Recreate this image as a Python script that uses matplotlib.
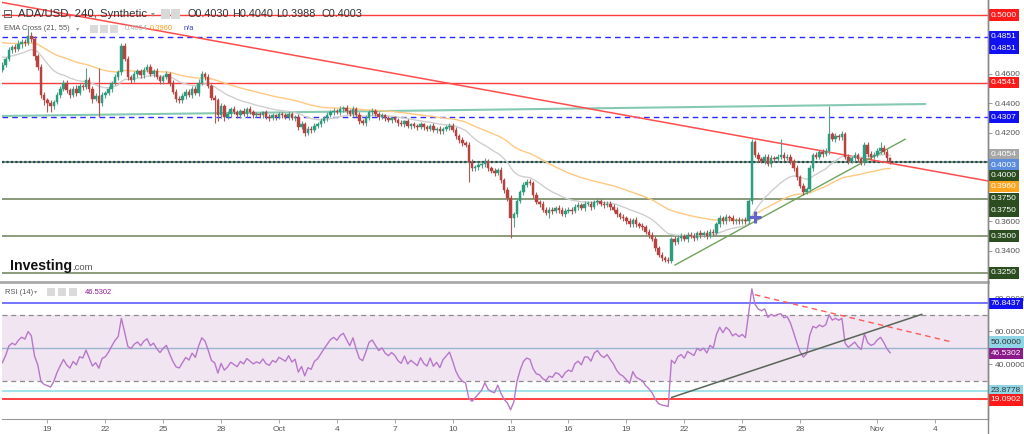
import numpy as np
import matplotlib
matplotlib.use("Agg")
import matplotlib.pyplot as plt
from matplotlib.patches import Rectangle
from matplotlib.transforms import blended_transform_factory

plt.rcParams['font.family'] = ['Liberation Sans', 'DejaVu Sans']

# ---------------- data (prices in 1e-4 units) ----------------
start_day = -14 - 1/3          # first candle: Sep 16 16:00, days relative to Oct 1
first_open = 4630
close_rows = [
    [4660, 4700],                                   # Sep 16
    [4760, 4780, 4770, 4800, 4820, 4810],           # Sep 17
    [4860, 4840, 4720, 4650, 4460, 4420],           # Sep 18
    [4400, 4380, 4410, 4460, 4500, 4540],           # Sep 19
    [4490, 4460, 4500, 4470, 4520, 4510],           # Sep 20
    [4560, 4500, 4430, 4450, 4400, 4460],           # Sep 21
    [4470, 4500, 4540, 4580, 4610, 4790],           # Sep 22
    [4700, 4580, 4560, 4600, 4620, 4590],           # Sep 23
    [4630, 4650, 4600, 4620, 4580, 4550],           # Sep 24
    [4580, 4600, 4540, 4480, 4430, 4420],           # Sep 25
    [4450, 4480, 4460, 4500, 4470, 4540],           # Sep 26
    [4600, 4580, 4520, 4440, 4420, 4320],           # Sep 27
    [4380, 4310, 4330, 4360, 4340, 4320],           # Sep 28
    [4350, 4330, 4360, 4340, 4320, 4330],           # Sep 29
    [4320, 4340, 4310, 4300, 4320, 4310],           # Sep 30
    [4330, 4320, 4310, 4330, 4300, 4310],           # Oct 1
    [4240, 4260, 4200, 4230, 4220, 4250],           # Oct 2
    [4260, 4280, 4300, 4320, 4340, 4350],           # Oct 3
    [4340, 4360, 4370, 4350, 4330, 4360],           # Oct 4
    [4320, 4280, 4270, 4300, 4340, 4350],           # Oct 5
    [4330, 4310, 4320, 4300, 4290, 4300],           # Oct 6
    [4290, 4270, 4260, 4280, 4250, 4260],           # Oct 7
    [4250, 4240, 4260, 4240, 4230, 4250],           # Oct 8
    [4220, 4230, 4210, 4230, 4240, 4250],           # Oct 9
    [4220, 4180, 4150, 4130, 4120, 4000],           # Oct 10
    [3960, 3970, 3980, 3990, 4010, 3960],           # Oct 11
    [3940, 3930, 3950, 3880, 3810, 3760],           # Oct 12
    [3620, 3650, 3740, 3800, 3850, 3870],           # Oct 13
    [3860, 3780, 3730, 3720, 3680, 3660],           # Oct 14
    [3680, 3670, 3690, 3680, 3650, 3670],           # Oct 15
    [3680, 3670, 3700, 3710, 3690, 3720],           # Oct 16
    [3720, 3700, 3730, 3740, 3720, 3710],           # Oct 17
    [3720, 3700, 3680, 3650, 3630, 3620],           # Oct 18
    [3600, 3580, 3610, 3580, 3570, 3560],           # Oct 19
    [3530, 3510, 3480, 3420, 3370, 3350],           # Oct 20
    [3340, 3330, 3480, 3460, 3490, 3500],           # Oct 21
    [3480, 3510, 3500, 3490, 3520, 3510],           # Oct 22
    [3520, 3500, 3530, 3520, 3580, 3620],           # Oct 23
    [3600, 3630, 3620, 3600, 3610, 3600],           # Oct 24
    [3610, 3600, 3740, 4140, 4050, 4020],           # Oct 25
    [4010, 4040, 3990, 4030, 4020, 4040],           # Oct 26
    [4050, 4030, 4040, 4010, 3960, 3900],           # Oct 27
    [3840, 3800, 3820, 3960, 4050, 4040],           # Oct 28
    [4070, 4060, 4080, 4190, 4160, 4180],           # Oct 29
    [4170, 4190, 4040, 4010, 4030, 4050],           # Oct 30
    [4020, 4000, 4120, 4060, 4040, 4050],           # Oct 31
    [4080, 4100, 4070, 4030, 4003],                 # Nov 1
]
upper_wick_rows = [
    [20, 15],
    [25, 15, 20, 30, 20, 15], [45, 25, 20, 15, 20, 15], [15, 20, 15, 20, 15, 20],
    [20, 15, 20, 25, 20, 15], [80, 20, 15, 20, 190, 20], [15, 20, 15, 20, 20, 20],
    [20, 20, 15, 20, 15, 15], [20, 15, 20, 15, 20, 15], [15, 20, 15, 20, 15, 20],
    [20, 15, 20, 15, 20, 25], [20, 15, 20, 15, 20, 15], [20, 15, 20, 15, 20, 15],
    [15, 20, 15, 20, 15, 15], [15, 10, 15, 20, 15, 10], [15, 10, 15, 20, 15, 10],
    [15, 20, 15, 20, 15, 20], [15, 20, 15, 20, 15, 20], [15, 20, 15, 20, 15, 20],
    [15, 20, 15, 20, 15, 20], [15, 10, 15, 10, 15, 10], [15, 10, 15, 10, 15, 10],
    [15, 10, 15, 10, 15, 10], [15, 10, 15, 10, 15, 20], [15, 20, 15, 20, 15, 20],
    [20, 15, 20, 15, 20, 15], [15, 20, 15, 20, 15, 20], [20, 15, 20, 15, 20, 15],
    [20, 15, 20, 15, 20, 15], [15, 20, 15, 20, 15, 20], [15, 20, 15, 20, 15, 20],
    [15, 20, 15, 20, 15, 20], [15, 20, 15, 20, 15, 20], [15, 20, 15, 20, 15, 20],
    [15, 20, 15, 20, 15, 20], [15, 20, 15, 20, 15, 20], [15, 20, 15, 20, 15, 20],
    [15, 20, 15, 20, 15, 20], [15, 20, 15, 20, 15, 20], [15, 20, 15, 20, 15, 20],
    [15, 20, 15, 20, 15, 20], [110, 20, 15, 20, 15, 20], [15, 20, 15, 20, 15, 20],
    [15, 20, 15, 193, 15, 20], [15, 20, 15, 20, 15, 20], [15, 20, 20, 20, 15, 20],
    [20, 40, 15, 20, 10],
]
lower_wick_rows = [
    [20, 15],
    [15, 20, 20, 15, 25, 20], [15, 20, 25, 20, 20, 30], [60, 40, 20, 15, 20, 15],
    [20, 25, 15, 20, 15, 20], [15, 20, 25, 15, 90, 20], [20, 15, 20, 15, 20, 15],
    [15, 20, 20, 15, 20, 20], [15, 20, 15, 20, 15, 20], [20, 15, 20, 15, 20, 15],
    [15, 20, 15, 20, 15, 20], [15, 20, 15, 20, 150, 40], [20, 30, 15, 20, 15, 20],
    [20, 15, 20, 15, 20, 15], [15, 20, 15, 20, 15, 20], [15, 20, 15, 20, 15, 20],
    [20, 15, 20, 15, 20, 15], [15, 20, 15, 20, 15, 20], [15, 20, 15, 20, 15, 20],
    [15, 20, 15, 20, 15, 20], [15, 20, 15, 20, 15, 20], [15, 20, 15, 20, 15, 20],
    [15, 20, 15, 20, 15, 20], [15, 20, 15, 20, 15, 20], [15, 20, 15, 20, 15, 130],
    [20, 15, 20, 15, 20, 15], [15, 20, 15, 20, 15, 20], [130, 60, 20, 15, 20, 15],
    [15, 20, 15, 20, 15, 20], [40, 20, 15, 20, 15, 20], [15, 20, 15, 20, 15, 20],
    [15, 20, 15, 20, 15, 20], [15, 20, 15, 20, 15, 20], [15, 20, 15, 20, 15, 20],
    [15, 20, 15, 20, 15, 20], [15, 15, 15, 20, 15, 20], [15, 20, 15, 20, 15, 20],
    [15, 20, 15, 20, 15, 20], [15, 20, 15, 20, 15, 20], [15, 20, 15, 20, 15, 20],
    [15, 20, 15, 20, 15, 20], [15, 20, 15, 20, 15, 20], [15, 20, 15, 20, 15, 20],
    [15, 20, 15, 20, 15, 20], [15, 20, 15, 20, 15, 20], [15, 20, 15, 20, 15, 20],
    [15, 20, 15, 20, 15],
]
ema_fast_start, ema_slow_start = 0.4720, 0.4820
rsi_avg_gain_start, rsi_avg_loss_start = 0.0015, 0.0025

# horizontal levels
red_levels = [0.5000, 0.4541]
blue_dashed_levels = [0.4851, 0.4307]
green_levels = [0.3750, 0.3750, 0.3500, 0.3250, 0.4000]
last_price = 0.4003
# trend lines (day, value)
red_trend = ([-14.456, 36.74], [0.5088, 0.3874])
teal_trend = ([-14.35, 33.47], [0.4315, 0.4396])
green_trend = ([20.52, 32.44], [0.3304, 0.4157])
cross_point = (24.66, 0.3632)
rsi_red_trend = ([24.66, 34.92], [82.1, 53.3])
rsi_dark_trend = ([20.35, 33.3], [19.9, 70.2])
rsi_levels = {'blue': 76.8437, 'cyan': 23.8778, 'red': 19.0902}

tick_days = [-12, -9, -6, -3, 0, 3, 6, 9, 12, 15, 18, 21, 24, 27, 31, 34]
tick_labels = ["19", "22", "25", "28", "Oct", "4", "7", "10", "13", "16",
               "19", "22", "25", "28", "Nov", "4"]

# ---------------- derived ----------------
closes = np.array([v for r in close_rows for v in r], float) / 1e4
uw = np.array([v for r in upper_wick_rows for v in r], float) / 1e4
lw = np.array([v for r in lower_wick_rows for v in r], float) / 1e4
n = len(closes)
assert len(uw) == n and len(lw) == n, (n, len(uw), len(lw))
opens = np.r_[first_open / 1e4, closes[:-1]]
highs = np.maximum(opens, closes) + uw
lows = np.minimum(opens, closes) - lw
t = start_day + np.arange(n) / 6.0


def ema(x, span, seed):
    a = 2.0 / (span + 1)
    out = np.empty_like(x)
    prev = seed
    for i, v in enumerate(x):
        prev = prev + a * (v - prev)
        out[i] = prev
    return out


def rsi(x, period, g0, l0):
    prev = np.r_[first_open / 1e4, x[:-1]]
    d = x - prev
    ag, al = g0, l0
    out = np.empty_like(x)
    for i, v in enumerate(d):
        ag = (ag * (period - 1) + max(v, 0)) / period
        al = (al * (period - 1) + max(-v, 0)) / period
        out[i] = 100 - 100 / (1 + ag / al)
    return out


ema_fast = ema(closes, 21, ema_fast_start)
ema_slow = ema(closes, 55, ema_slow_start)
rsi_vals = rsi(closes, 14, rsi_avg_gain_start, rsi_avg_loss_start)

# ---------------- figure ----------------
W, H = 1024, 434
fig = plt.figure(figsize=(W / 100, H / 100), dpi=100)
fig.patch.set_facecolor('white')


def fx(px):
    return px / W


def fy(py):
    return 1 - py / H


left_px, right_px = 2, 988
ax = fig.add_axes([fx(left_px), fy(281), fx(right_px - left_px), (281) / H])
ax2 = fig.add_axes([fx(left_px), fy(419), fx(right_px - left_px), (419 - 283) / H], sharex=ax)

xlim = (-14.352, 36.736)
ax.set_xlim(*xlim)
ax.set_ylim(0.31954, 0.51018)
ax2.set_ylim(6.8, 89.2)

for a in (ax, ax2):
    for s in ('top', 'left', 'bottom'):
        a.spines[s].set_visible(False)
    a.spines['right'].set_color('#888888')
    a.spines['right'].set_linewidth(1.0)
    a.yaxis.tick_right()
    a.tick_params(axis='y', length=3, width=0.6, colors='#888888', labelsize=6.0,
                  labelcolor='#555555', pad=2)

# ----- price panel -----
for lv in red_levels:
    ax.axhline(lv, color='#ff3b3b', lw=1.0, zorder=1)
for lv in blue_dashed_levels:
    ax.axhline(lv, color='#2a2aff', lw=1.0, ls=(0, (4, 3)), zorder=1)
for lv in green_levels:
    ax.axhline(lv, color='#8a9c7c', lw=1.4, zorder=1)
ax.axhline(last_price, color='#1f4a5a', lw=1.6, ls=(0, (1, 1)), zorder=1)

ax.plot(*teal_trend, color='#86c9b3', lw=1.5, zorder=2)
ax.plot(*red_trend, color='#ff4d4d', lw=1.1, zorder=2)
ax.plot(t, ema_slow, color='#ffc982', lw=1.0, zorder=3)
ax.plot(t, ema_fast, color='#cfcfcf', lw=1.0, zorder=3)
ax.plot(*green_trend, color='#6fa35a', lw=1.0, zorder=4)

up = closes >= opens
col = np.where(up, '#2a9d7f', '#b8423f')
wick_col = np.where(up, '#5b9c8a', '#a85a58')
ax.vlines(t, lows, highs, colors=wick_col, lw=0.8, zorder=5)
body_low = np.minimum(opens, closes)
body_h = np.maximum(np.abs(closes - opens), 0.0004)
ax.bar(t, body_h, bottom=body_low, width=0.13, color=col, edgecolor=col, lw=0.3, zorder=6)
ax.plot([cross_point[0]], [cross_point[1]], marker='+', ms=8, mew=2.2,
        color='#6464c8', zorder=7)

ax.set_yticks([0.46, 0.44, 0.42, 0.36, 0.34])
ax.set_yticklabels(['%.4f' % v for v in [0.46, 0.44, 0.42, 0.36, 0.34]])
ax.tick_params(axis='x', bottom=False, labelbottom=False)


def rlabel(a, y, text, bg, fg='white'):
    tr = blended_transform_factory(a.transAxes, a.transData)
    a.text(1.0025, y, text, transform=tr, ha='left', va='center', fontsize=6.0,
           color=fg, clip_on=False, zorder=20,
           bbox=dict(boxstyle='square,pad=0.28', fc=bg, ec='none'))


rlabel(ax, 0.5000, '0.5000', '#ff1a1a')
rlabel(ax, 0.4851, '0.4851', '#1010f0')
rlabel(ax, 0.4772, '0.4851', '#1010f0')
rlabel(ax, 0.4541, '0.4541', '#ff1a1a')
rlabel(ax, 0.4307, '0.4307', '#1010f0')
rlabel(ax, 0.4052, '0.4054', '#a6a6a6')
rlabel(ax, 0.3982, '0.4003', '#5a8de0')
rlabel(ax, 0.3910, '0.4000', '#2b4d1f')
rlabel(ax, 0.3836, '0.3960', '#ffa41c')
rlabel(ax, 0.3752, '0.3750', '#2b4d1f')
rlabel(ax, 0.3672, '0.3750', '#2b4d1f')
rlabel(ax, 0.3500, '0.3500', '#2b4d1f')
rlabel(ax, 0.3250, '0.3250', '#2b4d1f')

# ----- RSI panel -----
ax2.axhspan(30, 70, color='#f1e5f1', zorder=0, lw=0)
ax2.axhline(70, color='#8c8c8c', lw=0.9, ls=(0, (4, 3)), zorder=1)
ax2.axhline(30, color='#8c8c8c', lw=0.9, ls=(0, (4, 3)), zorder=1)
ax2.axhline(50, color='#9ab4cf', lw=1.0, zorder=1)
ax2.axhline(rsi_levels['blue'], color='#6a6aff', lw=1.3, zorder=1)
ax2.axhline(rsi_levels['cyan'], color='#9be0e8', lw=1.3, zorder=1)
ax2.axhline(rsi_levels['red'], color='#ff3333', lw=1.3, zorder=1)
ax2.plot(t, rsi_vals, color='#b877c9', lw=1.0, zorder=3)
ax2.plot(*rsi_red_trend, color='#ff5a5a', lw=1.0, ls=(0, (4, 3)), zorder=4)
ax2.plot(*rsi_dark_trend, color='#586658', lw=1.1, zorder=4)

ax2.set_yticks([80, 60, 40])
ax2.set_yticklabels(['80.0000', '60.0000', '40.0000'])
rlabel(ax2, rsi_levels['blue'], '76.8437', '#1010f0')
rlabel(ax2, 53.3, '50.0000', '#8fd5e6', fg='#333333')
rlabel(ax2, 46.53, '46.5302', '#8b1a8b')
rlabel(ax2, rsi_levels['cyan'], '23.8778', '#8fd5e6', fg='#333333')
rlabel(ax2, 18.4, '19.0902', '#ff1a1a')

ax2.spines['bottom'].set_visible(True)
ax2.spines['bottom'].set_color('#999999')
ax2.set_xticks(tick_days)
ax2.set_xticklabels(tick_labels)
ax2.tick_params(axis='x', length=3, width=0.6, colors='#999999', labelsize=6.0,
                labelcolor='#555555', pad=2)

# separators
fig.add_artist(plt.Line2D([0, fx(988)], [fy(282), fy(282)], color='#a8a8a8', lw=2))
fig.add_artist(plt.Line2D([fx(988), fx(988)], [0, 1], color='#888888', lw=1))

# ----- header texts -----
fig.text(fx(3), fy(14), '⊟', family='DejaVu Sans', fontsize=8.5, color='#555555', va='center')
fig.text(fx(18), fy(14), 'ADA/USD, 240, Synthetic', fontsize=8.2, color='#333333',
         va='center', ha='left')
fig.text(fx(151), fy(14), '▾', family='DejaVu Sans', fontsize=5.5, color='#999999', va='center')
for x0 in (161, 171):
    fig.add_artist(Rectangle((fx(x0), fy(19)), 9 / W, 10 / H, fc='#d9d9d9', ec='none'))
for x0, s in ((187, 'O0.4030'), (232, 'H0.4040'), (276, 'L0.3988'), (322, 'C0.4003')):
    fig.text(fx(x0), fy(14), s, fontsize=7.8, color='#333333', va='center', ha='left')

small = dict(fontsize=5.4, va='center', ha='left')
fig.text(fx(4), fy(29), 'EMA Cross (21, 55)', color='#555555', **small)
fig.text(fx(76), fy(29), '▾', family='DejaVu Sans', fontsize=4.5, color='#999999', va='center')
for x0 in (90, 100, 110):
    fig.add_artist(Rectangle((fx(x0), fy(33)), 8 / W, 8 / H, fc='#dadada', ec='none'))
fig.text(fx(125), fy(29), '0.4054', color='#b0b0b0', **small)
fig.text(fx(150), fy(29), '0.3960', color='#ff9a1a', **small)
fig.text(fx(184), fy(29), 'n/a', color='#3040c0', **small)

fig.text(fx(5), fy(292), 'RSI (14)', color='#555555', **small)
fig.text(fx(34), fy(292), '▾', family='DejaVu Sans', fontsize=4.5, color='#999999', va='center')
for x0 in (47, 58, 69):
    fig.add_artist(Rectangle((fx(x0), fy(296)), 8 / W, 8 / H, fc='#dadada', ec='none'))
fig.text(fx(85), fy(292), '46.5302', color='#8b1a8b', **small)

fig.text(fx(10), fy(270), 'Investing', fontsize=10.2, fontweight='bold', color='#111111',
         va='baseline', ha='left')
fig.text(fx(72), fy(270), '.com', fontsize=6.8, color='#555555', va='baseline', ha='left')

fig.savefig('out.png', dpi=100, facecolor='white')
